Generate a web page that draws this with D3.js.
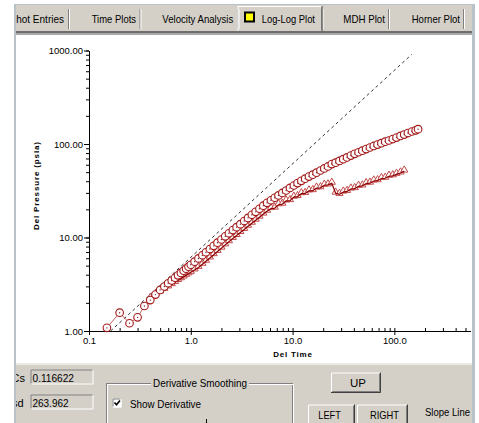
<!DOCTYPE html>
<html>
<head>
<meta charset="utf-8">
<script src="https://cdn.jsdelivr.net/npm/d3@7"></script>
<style>
body { margin: 0; background: #fff; }
svg { display: block; }
</style>
</head>
<body>
<svg id="chart" width="479" height="423"></svg>
<script>
// pressure change (circles)
var timeP = [0.15, 0.2, 0.25, 0.3, 0.35, 0.4, 0.45, 0.5, 0.55, 0.6, 0.65, 0.7, 0.75, 0.8, 0.85, 0.9, 0.95, 1.0,
    1.09, 1.19, 1.3, 1.41, 1.54, 1.68, 1.83, 2.0, 2.18, 2.37, 2.59, 2.82, 3.07, 3.35, 3.65, 3.98, 4.34, 4.73, 5.16, 5.62,
    6.13, 6.68, 7.28, 7.94, 8.65, 9.43, 10.3, 11.2, 12.2, 13.3, 14.5, 15.8, 17.2, 18.8, 20.5, 22.3, 24.3, 26.5, 28.9, 31.5,
    34.3, 37.4, 40.8, 44.5, 48.5, 52.8, 57.6, 62.8, 68.4, 74.6, 81.3, 88.6, 96.6, 105, 115, 125, 136, 149, 162, 171]
var pressure = [1.08, 1.57, 1.21, 1.40, 1.85, 2.14, 2.45, 2.75, 2.99, 3.24, 3.47, 3.71, 3.94, 4.18, 4.41, 4.64, 4.88, 5.11,
    5.52, 5.97, 6.46, 6.95, 7.53, 8.14, 8.80, 9.52, 10.3, 11.1, 12.0, 12.9, 13.9, 15.0, 16.2, 17.5, 18.8, 20.3, 21.9, 23.5,
    25.0, 26.6, 28.2, 30.0, 31.8, 33.9, 36.0, 38.2, 40.4, 42.6, 44.8, 47.0, 49.4, 52.1, 54.8, 57.5, 61.0, 63.1, 65.9, 68.9,
    71.9, 75.2, 78.5, 81.6, 84.9, 88.2, 91.7, 95.3, 98.6, 102, 106, 109, 113, 117, 122, 126, 131, 136, 140, 144]

// derivative (triangles)
var timeD = [0.4, 0.45, 0.5, 0.55, 0.6, 0.65, 0.7, 0.75, 0.8, 0.85, 0.9, 0.95, 1.0,
    1.09, 1.19, 1.3, 1.41, 1.54, 1.68, 1.83, 2.0, 2.18, 2.37, 2.59, 2.82, 3.07, 3.35, 3.65, 3.98, 4.34, 4.73, 5.16, 5.62,
    6.13, 6.68, 7.28, 7.94, 8.65, 9.43, 10.3, 11.2, 12.2, 13.3, 14.5, 15.8, 17.2, 18.8, 20.5, 22.3, 24.3, 26.5, 28.9, 31.5,
    34.3, 37.4, 40.8, 44.5, 48.5, 52.8, 57.6, 62.8, 68.4, 74.6, 81.3, 88.6, 96.6, 105, 115, 125]
var derivative = [2.23, 2.43, 2.61, 2.79, 2.96, 3.13, 3.30, 3.47, 3.62, 3.78, 3.94, 4.09, 4.24,
    4.50, 4.79, 5.17, 5.57, 6.04, 6.55, 7.09, 7.69, 8.34, 9.01, 9.78, 10.5, 11.3, 12.2, 13.2, 14.2, 15.3, 16.5, 17.8, 19.1,
    20.4, 20.6, 22.4, 22.7, 24.6, 24.8, 27.0, 27.4, 29.4, 29.6, 31.5, 31.7, 33.8, 34.0, 36.2, 36.5, 38.0, 29.8, 28.9, 30.6,
    31.1, 33.0, 33.3, 35.3, 35.6, 37.7, 38.1, 40.2, 40.5, 42.7, 43.0, 45.2, 45.7, 47.4, 49.0, 51.3]

// unit slope line
var slopeT = [0.163, 148]
var slopeP = [1.0, 908]

var xTicks = [0.1, 1, 10, 100]
var xTickLabels = ["0.1", "1.0", "10.0", "100.0"]
var yTicks = [1, 10, 100, 1000]
var yTickLabels = ["1.00", "10.00", "100.00", "1000.00"]

var tabNames = ["Shot Entries", "Time Plots", "Velocity Analysis", "Log-Log Plot", "MDH Plot", "Horner Plot"]
var activeTab = 3

// layout of the window chrome
var tabTextX = [9.5, 91.7, 162.3, 261.7, 343.3, 411.7]
var tabTextW = [54.5, 44.3, 71, 53.3, 41.7, 48.3]
var tabSep = [68, 139.5, 237.5, 321.5, 388, 463]

var gray = "#d4d0c8"
var uiFont = "'Liberation Sans', Arial, sans-serif"

var svg = d3.select("#chart")

svg.append("defs").append("clipPath").attr("id", "win")
    .append("rect").attr("x", 16).attr("y", 5).attr("width", 456).attr("height", 418)
svg.select("defs").append("clipPath").attr("id", "plotclip")
    .append("rect").attr("x", 16).attr("y", 35).attr("width", 456).attr("height", 327)

// window frame
svg.append("rect").attr("x", 14).attr("y", 4).attr("width", 461).attr("height", 419).attr("fill", "#b9c3c7")
var win = svg.append("g").attr("clip-path", "url(#win)")
win.append("rect").attr("x", 16).attr("y", 5).attr("width", 456).attr("height", 418).attr("fill", gray)

// tabs
var tabs = win.append("g").style("font-family", uiFont).style("font-size", "11px")
tabs.selectAll(".sep")
    .data(tabSep)
    .enter().append("rect")
    .attr("x", (d) => d)
    .attr("y", 9)
    .attr("width", 1)
    .attr("height", 20)
    .attr("fill", "#808080")
tabs.selectAll(".sephi")
    .data(tabSep)
    .enter().append("rect")
    .attr("x", (d) => d + 1)
    .attr("y", 9)
    .attr("width", 1)
    .attr("height", 20)
    .attr("fill", "#ffffff")
// active tab outline
tabs.append("rect").attr("x", 238).attr("y", 6).attr("width", 84).attr("height", 1).attr("fill", "#fff")
tabs.append("rect").attr("x", 237.5).attr("y", 6).attr("width", 1).attr("height", 25).attr("fill", "#fff")
tabs.append("rect").attr("x", 321.5).attr("y", 6).attr("width", 1).attr("height", 25).attr("fill", "#404040")
// yellow icon
tabs.append("rect").attr("x", 245).attr("y", 12.5).attr("width", 9).attr("height", 9)
    .attr("fill", "#ffff00").attr("stroke", "#000").attr("stroke-width", 2)

tabs.selectAll(".tabtext")
    .data(tabNames)
    .enter().append("text")
    .attr("x", (d, i) => tabTextX[i])
    .attr("y", 22.5)
    .attr("textLength", (d, i) => tabTextW[i])
    .attr("lengthAdjust", "spacingAndGlyphs")
    .attr("fill", "#000")
    .text((d) => d)

// line under the tab row
win.append("rect").attr("x", 16).attr("y", 31).attr("width", 456).attr("height", 2).attr("fill", "#6e6e6e")
win.append("rect").attr("x", 16).attr("y", 33).attr("width", 456).attr("height", 2).attr("fill", "#a9a9a9")

// plot panel
win.append("rect").attr("x", 16).attr("y", 35).attr("width", 456).attr("height", 328).attr("fill", "#fff")
win.append("rect").attr("x", 16).attr("y", 363).attr("width", 456).attr("height", 2).attr("fill", "#ebe9e4")

var x = d3.scaleLog().domain([0.1, 560]).range([89, 470.5])
var y = d3.scaleLog().domain([1, 1000]).range([331, 50.5])

var plot = win.append("g").attr("clip-path", "url(#plotclip)")

// axes
var xMinor = d3.axisBottom(x).tickValues(x.ticks()).tickSize(-3).tickSizeOuter(0).tickFormat("")
var xMajor = d3.axisBottom(x).tickValues(xTicks).tickSize(4).tickSizeOuter(0)
    .tickFormat((d, i) => xTickLabels[i])
var yMinor = d3.axisLeft(y).tickValues(y.ticks()).tickSize(3).tickSizeOuter(0).tickFormat("")
var yMajor = d3.axisLeft(y).tickValues(yTicks).tickSize(5).tickSizeOuter(0)
    .tickFormat((d, i) => yTickLabels[i])

plot.append("g").attr("transform", "translate(0,331)").call(xMinor)
var gx = plot.append("g").attr("transform", "translate(0,331)").call(xMajor)
plot.append("g").attr("transform", "translate(89,0)").call(yMinor)
var gy = plot.append("g").attr("transform", "translate(89,0)").call(yMajor)

gx.selectAll("text").attr("dy", null).attr("y", 13)
    .style("font-family", uiFont).style("font-size", "9.5px")
gy.selectAll("text").attr("dy", "0.35em").attr("x", -6)
    .style("font-family", uiFont).style("font-size", "9.5px")

plot.append("text")
    .attr("x", 293)
    .attr("y", 357)
    .attr("text-anchor", "middle")
    .style("font-family", uiFont)
    .style("font-size", "8px")
    .style("font-weight", "bold")
    .style("letter-spacing", "0.8px")
    .text("Del Time")

plot.append("text")
    .attr("transform", "translate(39,186) rotate(-90)")
    .attr("text-anchor", "middle")
    .attr("textLength", 88)
    .style("font-family", uiFont)
    .style("font-size", "8px")
    .style("font-weight", "bold")
    .text("Del Pressure (psia)")

// unit slope line
plot.append("line")
    .attr("x1", x(slopeT[0])).attr("y1", y(slopeP[0]))
    .attr("x2", x(slopeT[1])).attr("y2", y(slopeP[1]))
    .attr("stroke", "#333")
    .attr("stroke-width", 1)
    .attr("stroke-dasharray", "3,3")

var pData = timeP.map((t, i) => ({ t: t, v: pressure[i] }))
var dData = timeD.map((t, i) => ({ t: t, v: derivative[i] }))

var line = d3.line().x((d) => x(d.t)).y((d) => y(d.v))

// derivative
plot.selectAll(".tri")
    .data(dData)
    .enter().append("path")
    .attr("d", "M-3.6,1 L3.6,1 L0,-5.2 Z")
    .attr("transform", (d) => "translate(" + x(d.t) + "," + y(d.v) + ")")
    .attr("fill", "#fff")
    .attr("stroke", "#c24a4a")
    .attr("stroke-width", 1)
plot.append("path")
    .datum(dData)
    .attr("d", line)
    .attr("fill", "none")
    .attr("stroke", "#8b0000")
    .attr("stroke-width", 1.2)

// pressure
plot.append("path")
    .datum(pData)
    .attr("d", line)
    .attr("fill", "none")
    .attr("stroke", "#c86464")
    .attr("stroke-width", 1)
var circ = plot.selectAll(".pt")
    .data(pData)
    .enter().append("g")
    .attr("transform", (d) => "translate(" + x(d.t) + "," + y(d.v) + ")")
circ.append("circle")
    .attr("r", 3.8)
    .attr("fill", "#fff")
    .attr("stroke", "#a31818")
    .attr("stroke-width", 1.1)
circ.append("circle")
    .attr("r", 0.7)
    .attr("fill", "#7a2020")

// bottom control panel
var ctl = win.append("g").style("font-family", uiFont).style("font-size", "11px")

function sunken(g, x0, y0, w, h, fill) {
    g.append("rect").attr("x", x0).attr("y", y0).attr("width", w).attr("height", h).attr("fill", fill)
    g.append("path").attr("d", `M ${x0 + 0.5} ${y0 + h} V ${y0 + 0.5} H ${x0 + w}`)
        .attr("fill", "none").attr("stroke", "#808080")
    g.append("path").attr("d", `M ${x0} ${y0 + h - 0.5} H ${x0 + w - 0.5} V ${y0}`)
        .attr("fill", "none").attr("stroke", "#ffffff")
}

function button(g, x0, y0, w, h, label, tx, tw) {
    g.append("rect").attr("x", x0).attr("y", y0).attr("width", w).attr("height", h).attr("fill", gray)
    g.append("path").attr("d", `M ${x0 + 0.5} ${y0 + h} V ${y0 + 0.5} H ${x0 + w}`)
        .attr("fill", "none").attr("stroke", "#ffffff")
    g.append("path").attr("d", `M ${x0} ${y0 + h - 0.5} H ${x0 + w - 0.5} V ${y0}`)
        .attr("fill", "none").attr("stroke", "#404040")
    g.append("path").attr("d", `M ${x0 + 1} ${y0 + h - 1.5} H ${x0 + w - 1.5} V ${y0 + 1}`)
        .attr("fill", "none").attr("stroke", "#808080")
    g.append("text").attr("x", tx).attr("y", y0 + 14).attr("textLength", tw)
        .attr("lengthAdjust", "spacingAndGlyphs").text(label)
}

ctl.append("text").attr("x", 11.5).attr("y", 382).text("Cs")
ctl.append("text").attr("x", 12).attr("y", 407).text("sd")
sunken(ctl, 30.5, 369.5, 63, 15, gray)
sunken(ctl, 30.5, 394.5, 63, 15, gray)
ctl.append("text").attr("x", 32.5).attr("y", 381.5).attr("textLength", 41.5).attr("lengthAdjust", "spacingAndGlyphs").text("0.116622")
ctl.append("text").attr("x", 32.5).attr("y", 406.5).attr("textLength", 36).attr("lengthAdjust", "spacingAndGlyphs").text("263.962")

// group box
ctl.append("rect").attr("x", 106.5).attr("y", 383.5).attr("width", 186).attr("height", 60)
    .attr("fill", "none").attr("stroke", "#808080")
ctl.append("rect").attr("x", 107.5).attr("y", 384.5).attr("width", 186).attr("height", 60)
    .attr("fill", "none").attr("stroke", "#ffffff")
ctl.append("rect").attr("x", 151).attr("y", 378).attr("width", 98).attr("height", 12).attr("fill", gray)
ctl.append("text").attr("x", 153).attr("y", 387).attr("textLength", 94).attr("lengthAdjust", "spacingAndGlyphs")
    .text("Derivative Smoothing")
sunken(ctl, 112.5, 398.5, 9, 9, "#fff")
ctl.append("path").attr("d", "M 114.5 402.5 L 116.5 404.8 L 120 400.5")
    .attr("fill", "none").attr("stroke", "#000").attr("stroke-width", 1.6)
ctl.append("text").attr("x", 130).attr("y", 408).attr("textLength", 71).attr("lengthAdjust", "spacingAndGlyphs")
    .text("Show Derivative")
ctl.append("rect").attr("x", 206).attr("y", 419).attr("width", 1).attr("height", 4).attr("fill", "#000")

button(ctl, 331, 372.5, 50, 20.5, "UP", 350, 16)
button(ctl, 308, 404.5, 47, 22, "LEFT", 318.3, 22.5)
button(ctl, 357, 404.5, 51, 22, "RIGHT", 370, 29)
ctl.append("text").attr("x", 425).attr("y", 415.5).attr("textLength", 45).attr("lengthAdjust", "spacingAndGlyphs")
    .text("Slope Line")
</script>
</body>
</html>
